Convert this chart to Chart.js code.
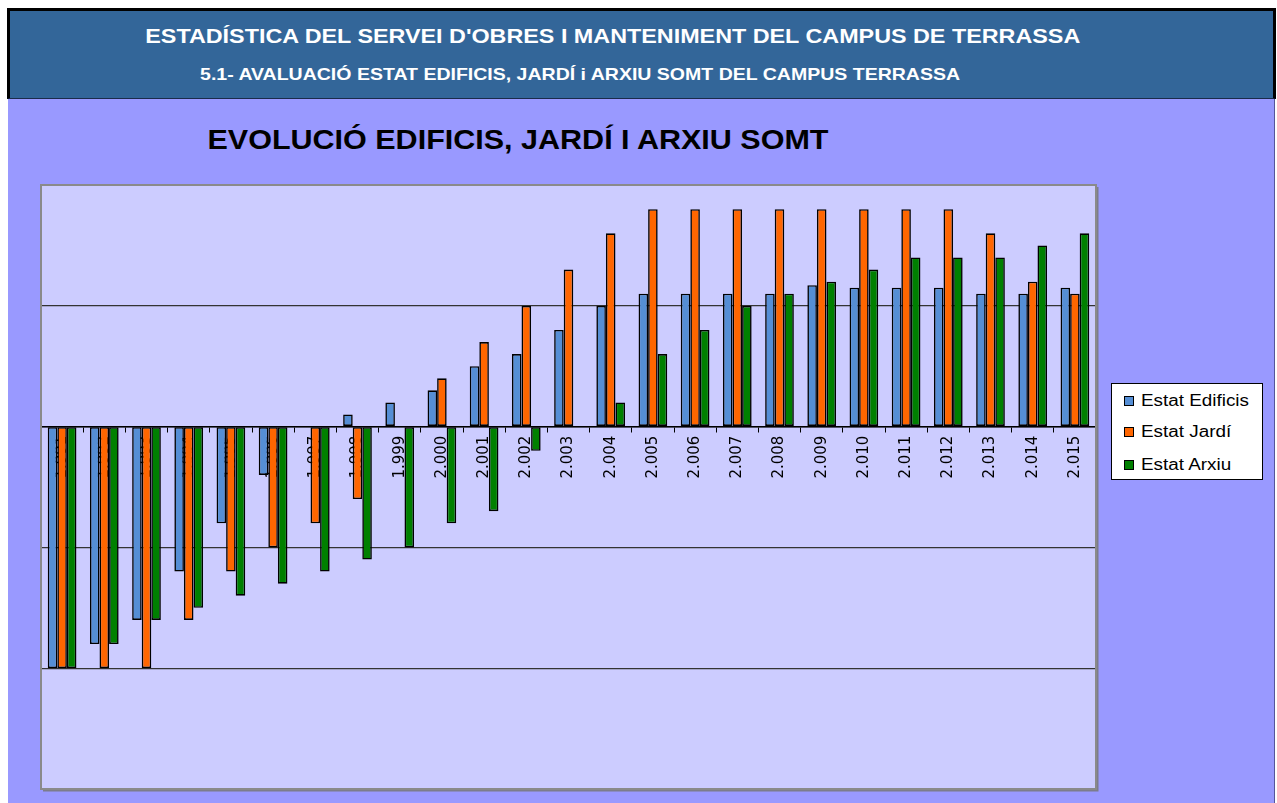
<!DOCTYPE html>
<html><head><meta charset="utf-8">
<script src="https://cdn.jsdelivr.net/npm/chart.js@4.4.1/dist/chart.umd.min.js"></script>
<style>
html,body{margin:0;padding:0;background:#fff;width:1277px;height:803px;overflow:hidden;font-family:'Liberation Sans',Arial,sans-serif;}
#header{position:absolute;left:7px;top:8px;width:1263px;height:87px;background:#336699;border:3px solid #000;border-bottom:1px solid #1b2b4b;}
#panel{position:absolute;left:8px;top:99px;width:1266px;height:704px;background:#9999FF;border-right:1px solid #55559a;}
.txt{position:absolute;white-space:nowrap;font-weight:bold;transform-origin:50% 50%;}
#h1{color:#fff;font-size:20px;line-height:20px;top:26px;}
#h2{color:#fff;font-size:16.3px;line-height:16.3px;top:66px;}
#t1{color:#000;font-size:28px;line-height:28px;top:126px;}
#chartBox{position:absolute;left:8px;top:100px;width:1267px;height:703px;}
#legend{position:absolute;left:1111px;top:383px;width:152px;height:97px;background:#fff;border:1px solid #000;box-sizing:border-box;}
.li{position:absolute;left:0;height:20px;width:150px;}
.sw{position:absolute;left:12px;width:8px;height:8px;border:1.5px solid #000;}
.lt{position:absolute;left:29px;white-space:nowrap;font-family:'Liberation Sans',Arial,sans-serif;font-size:16px;line-height:16px;transform-origin:0 50%;color:#000;}
</style>
</head><body>
<div id="header"></div>
<div id="panel"></div>
<div id="h1" class="txt">ESTADÍSTICA DEL SERVEI D'OBRES I MANTENIMENT DEL CAMPUS DE TERRASSA</div>
<div id="h2" class="txt">5.1- AVALUACIÓ ESTAT EDIFICIS, JARDÍ i ARXIU SOMT DEL CAMPUS TERRASSA</div>
<div id="t1" class="txt">EVOLUCIÓ EDIFICIS, JARDÍ I ARXIU SOMT</div>
<div id="chartBox"><canvas id="c"></canvas></div>
<div id="legend"></div>
<script>
const categories = ['1.991','1.992','1.993','1.994','1.995','1.996','1.997','1.998','1.999','2.000','2.001','2.002','2.003','2.004','2.005','2.006','2.007','2.008','2.009','2.010','2.011','2.012','2.013','2.014','2.015'];
const estatEdificis = [-2, -1.8, -1.6, -1.2, -0.8, -0.4, 0, 0.1, 0.2, 0.3, 0.5, 0.6, 0.8, 1.0, 1.1, 1.1, 1.1, 1.1, 1.17, 1.15, 1.15, 1.15, 1.1, 1.1, 1.15];
const estatJardi    = [-2, -2, -2, -1.6, -1.2, -1.0, -0.8, -0.6, 0, 0.4, 0.7, 1.0, 1.3, 1.6, 1.8, 1.8, 1.8, 1.8, 1.8, 1.8, 1.8, 1.8, 1.6, 1.2, 1.1];
const estatArxiu    = [-2, -1.8, -1.6, -1.5, -1.4, -1.3, -1.2, -1.1, -1.0, -0.8, -0.7, -0.2, 0, 0.2, 0.6, 0.8, 1.0, 1.1, 1.2, 1.3, 1.4, 1.4, 1.4, 1.5, 1.6];
const seriesNames  = ['Estat Edificis', 'Estat Jardí', 'Estat Arxiu'];
const seriesColors = ['#558ED5', '#FF6600', '#008000'];
const yMin = -3, yMax = 2, yStep = 1;

function place(id, cx, targetW){
  const el = document.getElementById(id);
  const w = el.getBoundingClientRect().width;
  el.style.left = (cx - w/2) + 'px';
  el.style.transform = 'scaleX(' + (targetW / w) + ')';
}
place('h1', 612.5, 935);
place('h2', 580, 760);
place('t1', 517.5, 621);

// legend
const lg = document.getElementById('legend');
const rowsY = [17, 48, 81];
seriesNames.forEach((n, i) => {
  const row = document.createElement('div');
  row.className = 'li'; row.style.top = (rowsY[i] - 10) + 'px';
  const sw = document.createElement('div'); sw.className = 'sw'; sw.style.background = seriesColors[i]; sw.style.top = '5px';
  const lt = document.createElement('div'); lt.className = 'lt'; lt.textContent = n; lt.style.top = '2px';
  row.appendChild(sw); row.appendChild(lt); lg.appendChild(row);
});
const lts = lg.querySelectorAll('.lt');
const sc = 108 / lts[0].getBoundingClientRect().width;
lts.forEach(e => e.style.transform = 'scaleX(' + sc + ')');

const plotBg = {
  id: 'plotBg',
  beforeDraw(chart){
    const a = chart.chartArea, ctx = chart.ctx;
    ctx.save(); ctx.fillStyle = '#CCCCFF';
    ctx.fillRect(a.left, a.top, a.right - a.left, a.bottom - a.top);
    ctx.restore();
  },
  afterDraw(chart){
    const a = chart.chartArea, ctx = chart.ctx;
    ctx.save();
    ctx.strokeStyle = '#7c7c8c'; ctx.lineWidth = 3;
    ctx.beginPath(); ctx.moveTo(a.right + 1, a.top + 2); ctx.lineTo(a.right + 1, a.bottom + 1); ctx.lineTo(a.left + 2, a.bottom + 1); ctx.stroke();
    ctx.strokeStyle = '#8a8a8a'; ctx.lineWidth = 2;
    ctx.strokeRect(a.left, a.top, a.right - a.left, a.bottom - a.top);
    ctx.restore();
  }
};

const series = [estatEdificis, estatJardi, estatArxiu];
new Chart(document.getElementById('c'), {
  type: 'bar',
  data: {
    labels: categories,
    datasets: series.map((d, i) => ({
      label: seriesNames[i], data: d,
      backgroundColor: seriesColors[i], borderColor: '#000', borderWidth: 1.6,
      borderSkipped: false, categoryPercentage: 0.68, barPercentage: 1.0
    }))
  },
  options: {
    responsive: true, maintainAspectRatio: false, animation: false,
    layout: { padding: { left: 33, top: 85, right: 179, bottom: 14 } },
    plugins: { legend: { display: false }, title: { display: false }, tooltip: { enabled: false } },
    scales: {
      x: {
        position: { y: 0 }, z: 1, offset: true,
        afterFit(s){ s.height = 0; },
        grid: { display: true, drawOnChartArea: false, drawTicks: true, tickLength: 5, color: '#000', offset: true },
        border: { display: true, color: '#000', width: 1.5 },
        ticks: { autoSkip: false, minRotation: 90, maxRotation: 90, padding: 4, color: '#000', font: { family: 'DejaVu Sans', size: 15 } }
      },
      y: {
        min: yMin, max: yMax,
        afterFit(s){ s.width = 0; },
        ticks: { display: false, stepSize: yStep },
        border: { display: false },
        grid: { drawTicks: false, lineWidth: 1.3,
          color: ctx => (ctx.tick && (ctx.tick.value === yMax || ctx.tick.value === yMin)) ? 'rgba(0,0,0,0)' : '#333' }
      }
    }
  },
  plugins: [plotBg]
});
</script>
</body></html>
